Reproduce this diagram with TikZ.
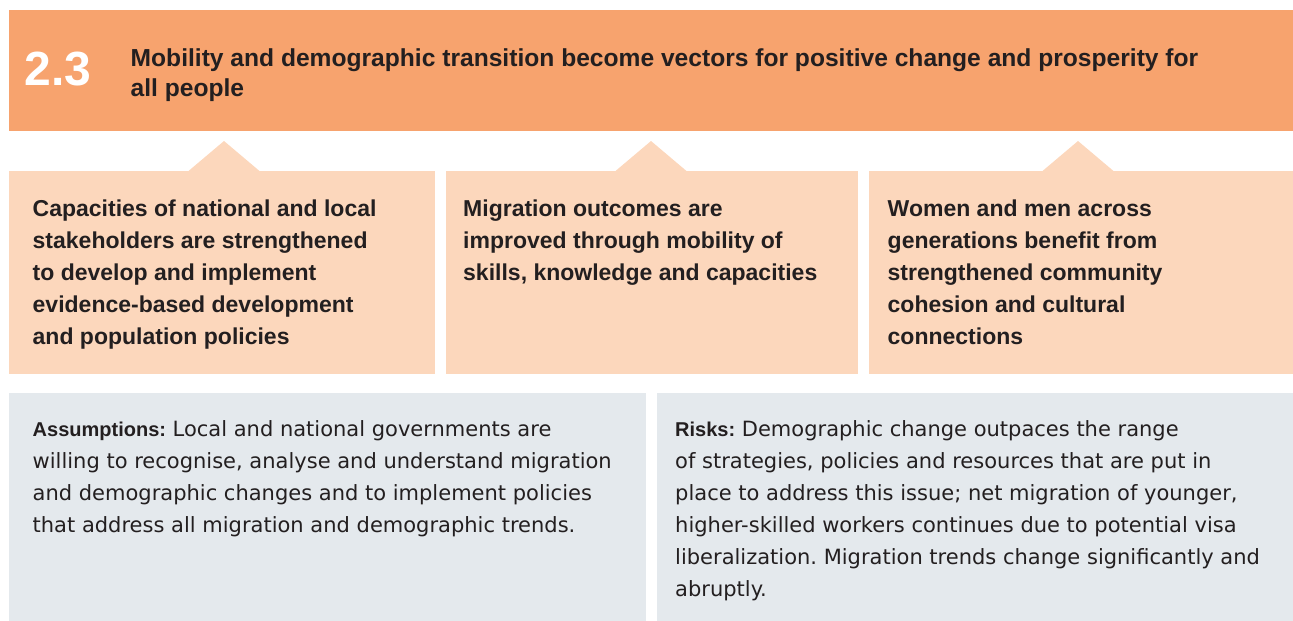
\documentclass[tikz,border=0pt]{standalone}
\usepackage{fontspec}
\setmainfont{Liberation Sans}
\newfontfamily\regfont{DejaVu Sans}
\definecolor{hdrorange}{HTML}{F7A36E}
\definecolor{peach}{HTML}{FCD7BC}
\definecolor{panelgray}{HTML}{E4E9ED}
\definecolor{ink}{HTML}{231F20}
\tikzset{
  headnum/.style={inner sep=0, anchor=base west, text=white, font=\fontsize{48}{48}\bfseries\selectfont},
  headtxt/.style={inner sep=0, anchor=base west, align=left, text=ink, font=\fontsize{24.6}{29.5}\bfseries\selectfont},
  outtxt/.style={inner sep=0, anchor=base west, align=left, text=ink, font=\fontsize{23}{32}\bfseries\selectfont},
  paratxt/.style={inner sep=0, anchor=base west, align=left, text=ink, font=\fontsize{21}{32}\regfont\selectfont},
  tri/.style={fill=peach},
}
\newcommand{\lbl}[1]{{\fontsize{20}{32}\rmfamily\bfseries\selectfont #1}}
\frenchspacing
\begin{document}
\begin{tikzpicture}[x=1pt,y=-1pt]
\useasboundingbox (0,0) rectangle (1293,621);
% header
\fill[hdrorange] (9,10) rectangle (1293,131);
% triangles
\fill[tri] (188.5,171) -- (224,141) -- (259.5,171) -- cycle;
\fill[tri] (615.5,171) -- (651,141) -- (686.5,171) -- cycle;
\fill[tri] (1042.5,171) -- (1078,141) -- (1113.5,171) -- cycle;
% outcome boxes
\fill[peach] (9,171) rectangle (435,374);
\fill[peach] (446,171) rectangle (858,374);
\fill[peach] (869,171) rectangle (1293,374);
% bottom panels
\fill[panelgray] (9,393) rectangle (646,621);
\fill[panelgray] (657,393) rectangle (1293,621);
% header texts (base anchor = baseline of the last line)
\node[headnum] (num) at (24.5,85) {2.3};
\node[headtxt] (title) at (130.5,96.2) {Mobility and demographic transition become vectors for positive change and prosperity for\\all people};
% outcomes
\node[outtxt] (o1) at (32.5,344.5) {Capacities of national and local\\stakeholders are strengthened\\to develop and implement\\evidence-based development\\and population policies};
\node[outtxt] (o2) at (463,280.5) {Migration outcomes are\\improved through mobility of\\skills, knowledge and capacities};
\node[outtxt] (o3) at (887.5,344.5) {Women and men across\\generations benefit from\\strengthened community\\cohesion and cultural\\connections};
% assumptions and risks
\node[paratxt] (asm) at (32.5,532.7) {\lbl{Assumptions:} Local and national governments are\\willing to recognise, analyse and understand migration\\and demographic changes and to implement policies\\that address all migration and demographic trends.};
\node[paratxt] (risk) at (675,596.7) {\lbl{Risks:} Demographic change outpaces the range\\of strategies, policies and resources that are put in\\place to address this issue; net migration of younger,\\higher-skilled workers continues due to potential visa\\liberalization. Migration trends change significantly and\\abruptly.};
\end{tikzpicture}
\end{document}
